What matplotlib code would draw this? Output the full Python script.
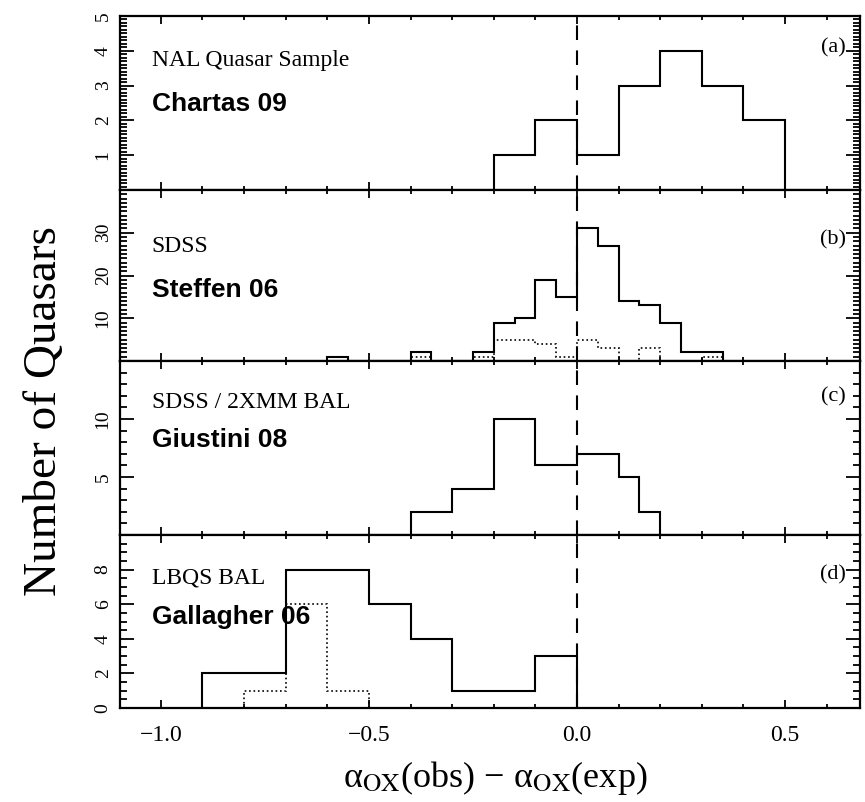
import numpy as np
import matplotlib
matplotlib.use("Agg")
import matplotlib.pyplot as plt
from matplotlib.ticker import MultipleLocator

plt.rcParams["font.family"] = ["Liberation Serif", "DejaVu Serif"]
plt.rcParams["mathtext.fontset"] = "stix"

# panel (a) NAL quasars
a_edges = [-0.2, -0.1, 0.0, 0.1, 0.2, 0.3, 0.4, 0.5]
a_counts = [1, 2, 1, 3, 4, 3, 2]

# panel (b) SDSS, solid = all, dotted = subsample
b_edges = [-0.6, -0.55, -0.5, -0.45, -0.4, -0.35, -0.3, -0.25, -0.2, -0.15,
           -0.1, -0.05, 0.0, 0.05, 0.1, 0.15, 0.2, 0.25, 0.3, 0.35]
b_counts = [1, 0, 0, 0, 2, 0, 0, 2, 9, 10, 19, 15, 31, 27, 14, 13, 9, 2, 2]
b_dotted = [0, 0, 0, 0, 1, 0, 0, 1, 5, 5, 4, 1, 5, 3, 0, 3, 0, 0, 1]

# panel (c) SDSS / 2XMM BAL
c_edges = [-0.4, -0.3, -0.2, -0.1, 0.0, 0.1, 0.15, 0.2]
c_counts = [2, 4, 10, 6, 7, 5, 2]

# panel (d) LBQS BAL
d_edges = [-0.9, -0.8, -0.7, -0.6, -0.5, -0.4, -0.3, -0.2, -0.1, 0.0]
d_counts = [2, 2, 8, 8, 6, 4, 1, 1, 3]
d_dot_edges = [-0.8, -0.7, -0.6, -0.5]
d_dotted = [1, 6, 1]

sample_names = ["NAL Quasar Sample", "SDSS", "SDSS / 2XMM BAL", "LBQS BAL"]
ref_names = ["Chartas 09", "Steffen 06", "Giustini 08", "Gallagher 06"]
panel_tags = ["(a)", "(b)", "(c)", "(d)"]

ylims = [(0, 5), (0, 40), (0, 15), (0, 10)]
yticks = [[1, 2, 3, 4, 5], [10, 20, 30], [5, 10], [0, 2, 4, 6, 8]]
yminor = [0.1, 1, 1, 0.5]

# layout in figure fractions
W, H = 865, 802
left, right = 120 / W, 860 / W
bounds = [16, 190, 361, 535, 708]
name_y = [0.747, 0.667, 0.764, 0.751]
ref_y = [0.494, 0.415, 0.546, 0.526]
tag_y = [0.816, 0.708, 0.793, 0.769]

fig = plt.figure(figsize=(W / 100, H / 100), dpi=100)
axes = []
for i in range(4):
    top, bot = bounds[i], bounds[i + 1]
    ax = fig.add_axes([left, 1 - bot / H, right - left, (bot - top) / H])
    axes.append(ax)

hists = [
    [(a_edges, a_counts, "-")],
    [(b_edges, b_counts, "-"), (b_edges, b_dotted, ":")],
    [(c_edges, c_counts, "-")],
    [(d_edges, d_counts, "-"), (d_dot_edges, d_dotted, ":")],
]

for i, ax in enumerate(axes):
    for edges, counts, ls in hists[i]:
        ax.stairs(counts, edges, color="black", lw=1.5 if ls == "-" else 1.2,
                  linestyle=ls, baseline=0)
    ax.axvline(0, color="black", lw=1.5, linestyle=(0, (7, 5)))

    ax.set_xlim(-1.098, 0.68)
    ax.set_ylim(*ylims[i])
    ax.set_yticks(yticks[i])
    ax.yaxis.set_minor_locator(MultipleLocator(yminor[i]))
    ax.xaxis.set_major_locator(MultipleLocator(0.5))
    ax.xaxis.set_minor_locator(MultipleLocator(0.1))

    ax.tick_params(which="both", direction="in", top=True, right=True,
                   width=1.3, color="black")
    ax.tick_params(axis="y", which="major", length=10)
    ax.tick_params(axis="y", which="minor", length=5)
    ax.tick_params(axis="x", which="major", length=6)
    ax.tick_params(axis="x", which="minor", length=3)
    ax.tick_params(axis="y", labelsize=14, labelrotation=90, pad=6)
    ax.tick_params(axis="x", labelsize=17, pad=12)
    for lab in ax.get_yticklabels():
        lab.set_va("center")
    for sp in ax.spines.values():
        sp.set_linewidth(1.6)
    if i < 3:
        ax.tick_params(axis="x", labelbottom=False)

    ax.text(0.043, name_y[i], sample_names[i], transform=ax.transAxes,
            fontsize=17, ha="left", va="center")
    ax.text(0.043, ref_y[i], ref_names[i], transform=ax.transAxes,
            fontsize=19, fontweight="bold", family="Liberation Sans",
            ha="left", va="center")
    ax.text(0.9635, tag_y[i], panel_tags[i], transform=ax.transAxes,
            fontsize=16, ha="center", va="center")

axes[3].set_xticks([-1.0, -0.5, 0.0, 0.5])
axes[3].set_xticklabels(["\u22121.0", "\u22120.5", "0.0", "0.5"])

fig.text(45 / W, 0.4875, "Number of Quasars", rotation=90, fontsize=34,
         ha="center", va="center")
fig.text(495 / W, 0.03, "\u03b1$_{\\rm OX}$(obs) \u2212 \u03b1$_{\\rm OX}$(exp)",
         fontsize=26, ha="center", va="center")

fig.savefig("out.png", dpi=100)
